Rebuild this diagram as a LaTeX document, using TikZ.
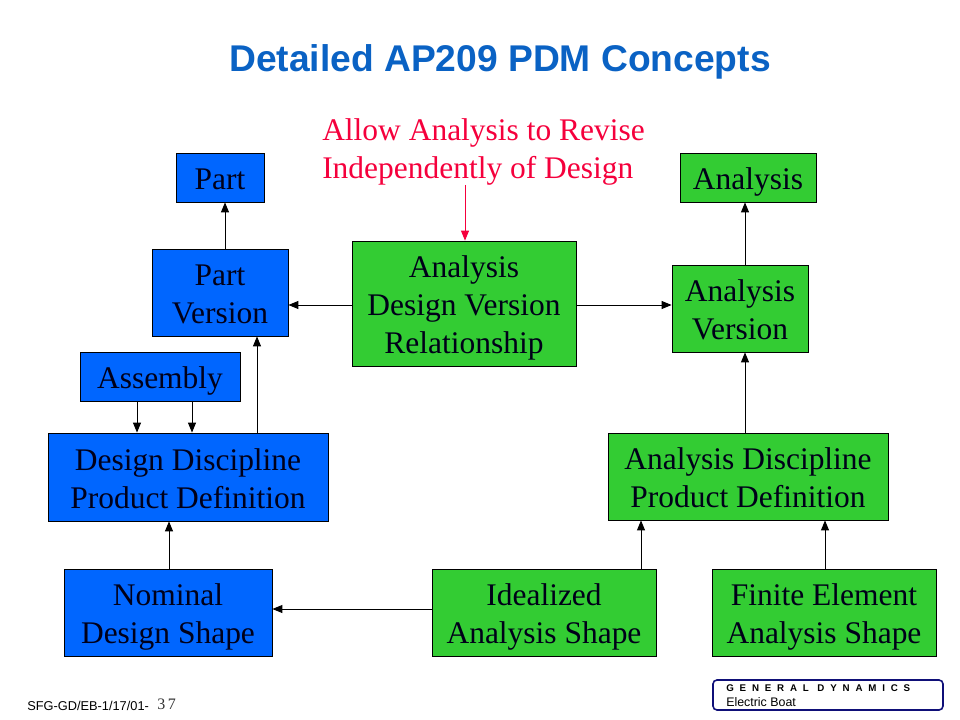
\documentclass[tikz,border=0pt]{standalone}
\usepackage{xcolor}
\usepackage{fontspec}
\setmainfont{Liberation Serif}
\newfontfamily\arialfont{Liberation Sans}
\usepackage{tikz}
\usetikzlibrary{arrows.meta}
\definecolor{boxblue}{HTML}{0066FF}
\definecolor{boxgreen}{HTML}{33CC33}
\definecolor{titleblue}{HTML}{0A62C4}
\definecolor{notered}{HTML}{F5003C}
\definecolor{logonavy}{HTML}{0F0F78}
\newcommand{\topstrut}{\rule{0pt}{24pt}}
\newcommand{\botstrut}{\rule[-6pt]{0pt}{6pt}}
\tikzset{
  box/.style={draw=black, line width=.6pt, inner sep=0pt, align=center, text=black!90!blue,
    font=\fontsize{23.6}{28.5}\selectfont},
  bluebox/.style={box, fill=boxblue},
  greenbox/.style={box, fill=boxgreen},
  boxsize/.style 2 args={minimum width=#1*.75pt, minimum height=#2*.75pt},
  conn/.style={-{Stealth[length=7.5pt,width=6pt,inset=0pt]}, line width=.7pt, black},
  plain/.style={anchor=west, inner sep=0pt}
}

\begin{document}
\begin{tikzpicture}[x=.75pt, y=-.75pt]
\useasboundingbox (0,0) rectangle (960,720);

\node[font=\arialfont\bfseries\fontsize{27.9}{30}\selectfont, text=titleblue] (title) at (500,62) {Detailed AP209 PDM Concepts};
\node[plain, align=left, text=notered, font=\fontsize{23.6}{28.5}\selectfont] (note) at (322,152) {Allow Analysis to Revise\\Independently of Design};

% design side
\node[bluebox, boxsize={88}{49}] (part) at (220,177.5) {\topstrut Part\botstrut};
\node[bluebox, boxsize={136}{87}] (partver) at (220,292.5) {\topstrut Part\\Version\botstrut};
\node[bluebox, boxsize={160}{49}] (assembly) at (160,376.5) {\topstrut Assembly\botstrut};
\node[bluebox, boxsize={280}{88}] (design) at (188,477) {\topstrut Design Discipline\\Product Definition\botstrut};
\node[bluebox, boxsize={208}{87}] (nominal) at (168,612.5) {\topstrut Nominal\\Design Shape\botstrut};

% analysis side
\node[greenbox, boxsize={224}{125}] (relation) at (464,303.5) {\topstrut Analysis\\Design Version\\Relationship\botstrut};
\node[greenbox, boxsize={136}{49}] (analysis) at (748,177.5) {\topstrut Analysis\botstrut};
\node[greenbox, boxsize={136}{87}] (anver) at (740,308.5) {\topstrut Analysis\\Version\botstrut};
\node[greenbox, boxsize={280}{87}] (andisc) at (748,476.5) {\topstrut Analysis Discipline\\Product Definition\botstrut};
\node[greenbox, boxsize={224}{87}] (ideal) at (544,612.5) {\topstrut Idealized\\Analysis Shape\botstrut};
\node[greenbox, boxsize={224}{87}] (fem) at (824,612.5) {\topstrut Finite Element\\Analysis Shape\botstrut};

\draw[conn] (225,0 |- partver.north) -- (225,0 |- part.south);
\draw[conn] (137,0 |- assembly.south) -- (137,0 |- design.north);
\draw[conn] (192,0 |- assembly.south) -- (192,0 |- design.north);
\draw[conn] (257,0 |- design.north) -- (257,0 |- partver.south);
\draw[conn] (169,0 |- nominal.north) -- (169,0 |- design.south);
\draw[conn] (relation.west |- 0,305) -- (partver.east |- 0,305);
\draw[conn] (relation.east |- 0,305) -- (anver.west |- 0,305);
\draw[conn, notered] (465,185) -- (465,0 |- relation.north);
\draw[conn] (745,0 |- anver.north) -- (745,0 |- analysis.south);
\draw[conn] (745,0 |- andisc.north) -- (745,0 |- anver.south);
\draw[conn] (641,0 |- ideal.north) -- (641,0 |- andisc.south);
\draw[conn] (825,0 |- fem.north) -- (825,0 |- andisc.south);
\draw[conn] (ideal.west |- 0,609) -- (nominal.east |- 0,609);

% footer
\node[plain, font=\arialfont\fontsize{9.6}{10}\selectfont, text=black] (ref) at (27,705.5) {SFG-GD/EB-1/17/01-};
\node[plain, font=\fontsize{12}{14}\selectfont, text=black!80] (page) at (157,704.5) {3\,7};
\node[draw=logonavy, line width=1.2pt, rounded corners=3pt, minimum width=230*.75pt, minimum height=30*.75pt] (logo) at (828,695) {};
\node[plain, font=\arialfont\bfseries\fontsize{7.3}{8}\selectfont\addfontfeature{LetterSpace=60}] (gd) at (726,688) {GENERAL DYNAMICS};
\node[plain, font=\arialfont\fontsize{9.3}{10}\selectfont] (eb) at (726,702) {Electric Boat};
\end{tikzpicture}
\end{document}
